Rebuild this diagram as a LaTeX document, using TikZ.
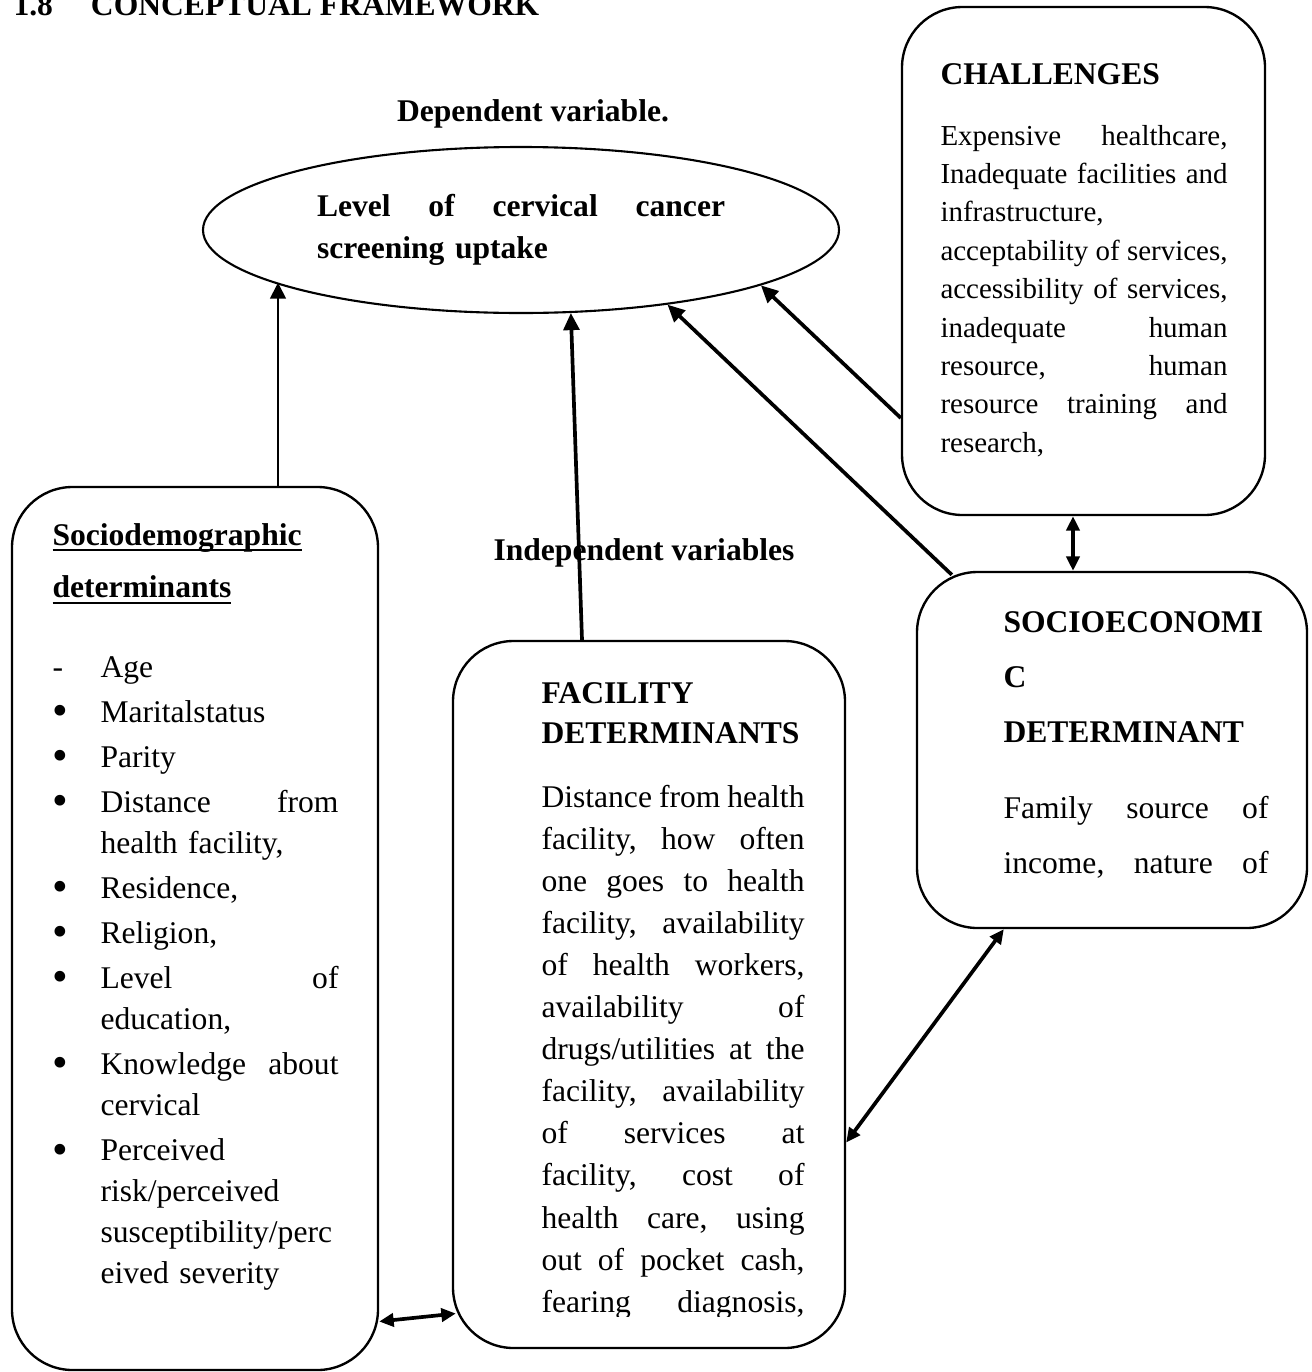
\documentclass[tikz,border=0pt]{standalone}
\usepackage{fontspec}
\setmainfont{Liberation Serif}
\usetikzlibrary{shapes.geometric,arrows.meta}

\newdimen\pxu \pxu=0.38pt
\newcommand{\jl}[2][\hsize]{\leavevmode\hbox to #1{\frenchspacing\spaceskip=.25em plus 1fil minus .06em\relax #2}}
\newsavebox\ulbox
\newcommand{\ulin}[1]{\leavevmode\sbox\ulbox{#1}\rlap{\rule[-2.3pt]{\wd\ulbox}{0.8pt}}\usebox\ulbox}
\newcommand{\bul}{\leavevmode\makebox[48\pxu][l]{\raisebox{-1.3pt}{\fontsize{17}{17}\selectfont\textbullet}}}
\newcommand{\hang}{\hspace*{48\pxu}}

\begin{document}
\begin{tikzpicture}[x=0.38pt, y=-0.38pt,
    box/.style={draw, line width=0.9pt, rounded corners=23pt, inner sep=0pt},
    hd/.style={inner sep=0pt, anchor=base west, font=\bfseries\fontsize{12}{15}\selectfont},
    txt/.style={inner sep=0pt, anchor=base west, align=left, font=\fontsize{12}{16}\selectfont},
    thin arr/.style={-{Triangle[length=6pt,width=6pt]}, line width=0.75pt},
    arr/.style={-{Triangle[length=6.5pt,width=6pt]}, line width=1.4pt},
    dbl/.style={{Triangle[length=5.5pt,width=5pt]}-{Triangle[length=5.5pt,width=5pt]}, line width=1.4pt}]

    \useasboundingbox (0,0) rectangle (1311,1372);

    % headings
    \node[hd] (ttl) at (13,15) {1.8\hspace{38\pxu}CONCEPTUAL FRAMEWORK};
    \node[hd, anchor=base] (dep) at (533,121) {Dependent variable.};
    \node[hd, anchor=base] (indep) at (644,560) {Independent variables};

    % dependent variable
    \node[ellipse, draw, line width=0.8pt, minimum width=636\pxu, minimum height=166\pxu,
          inner sep=0pt, text width=408\pxu, align=left,
          font=\bfseries\fontsize{12}{16}\selectfont] (ell) at (521,230)
          {\jl{Level of cervical cancer}\\ screening uptake};

    % challenges
    \node[box, minimum width=363\pxu, minimum height=508\pxu] (ch) at (1083.5,261) {};
    \node[hd] (chh) at (940,84) {CHALLENGES};
    \node[txt, text width=287\pxu, font=\fontsize{11}{14.6}\selectfont] (cht) at (940,145)
          {\jl{Expensive healthcare,}\\
           \jl{Inadequate facilities and}\\
           infrastructure,\\
           \jl{acceptability of services,}\\
           \jl{accessibility of services,}\\
           \jl{inadequate human}\\
           \jl{resource, human}\\
           \jl{resource training and}\\
           research,};

    % sociodemographic determinants
    \node[box, minimum width=366\pxu, minimum height=883\pxu] (sd) at (195,928.5) {};
    \node[hd, text width=286\pxu, align=left, font=\bfseries\fontsize{12}{20.1}\selectfont] (sdh) at (52,545)
          {\ulin{Sociodemographic}\\ \ulin{determinants}};
    \node[txt, text width=300\pxu, font=\fontsize{12}{15.6}\selectfont] (sdl) at (52,677)
          {\makebox[48\pxu][l]{-}Age\\[4\pxu]
           \bul Maritalstatus\\[4\pxu]
           \bul Parity\\[4\pxu]
           \bul\jl[238\pxu]{Distance from}\\
           \hang health facility,\\[4\pxu]
           \bul Residence,\\[4\pxu]
           \bul Religion,\\[4\pxu]
           \bul\jl[238\pxu]{Level of}\\
           \hang education,\\[4\pxu]
           \bul\jl[238\pxu]{Knowledge about}\\
           \hang cervical\\[4\pxu]
           \bul Perceived\\
           \hang risk/perceived\\
           \hang susceptibility/perc\\
           \hang eived severity};

    % facility determinants
    \node[box, minimum width=392\pxu, minimum height=707\pxu] (fac) at (649,994.5) {};
    \node[hd, text width=300\pxu, align=left, font=\bfseries\fontsize{12}{15.2}\selectfont] (fach) at (541,703)
          {FACILITY\\ DETERMINANTS};
    \begin{scope}
        \clip (453,641) rectangle (845,1316);
        \node[txt, text width=263\pxu] (fact) at (541,807)
              {\jl{Distance from health}\\
               \jl{facility, how often}\\
               \jl{one goes to health}\\
               \jl{facility, availability}\\
               \jl{of health workers,}\\
               \jl{availability of}\\
               \jl{drugs/utilities at the}\\
               \jl{facility, availability}\\
               \jl{of services at}\\
               \jl{facility, cost of}\\
               \jl{health care, using}\\
               \jl{out of pocket cash,}\\
               \jl{fearing diagnosis,}};
    \end{scope}

    % socioeconomic determinant
    \node[box, minimum width=390\pxu, minimum height=356\pxu] (se) at (1112,750) {};
    \node[hd, text width=280\pxu, align=left, font=\bfseries\fontsize{12}{20.9}\selectfont] (seh) at (1003,632)
          {SOCIOECONOMI\\ C\\ DETERMINANT};
    \node[txt, text width=265\pxu, font=\fontsize{12}{20.9}\selectfont] (set) at (1003,818)
          {\jl{Family source of}\\ \jl{income, nature of}};

    % connectors
    \draw[thin arr] ([xshift=83\pxu]sd.north) -- ([xshift=83\pxu]sd.north |- ell.192);
    \draw[arr] ([xshift=-67\pxu]fac.north) -- (ell.301);
    \draw[arr] ([xshift=36\pxu,yshift=-4\pxu]se.north west) -- (ell.333);
    \draw[arr] ([yshift=-157\pxu]ch.west) -- (ell.347);
    \draw[dbl] ([xshift=-10.5\pxu]ch.south) -- ([xshift=-39\pxu]se.north);
    \draw[dbl] ([yshift=-148\pxu]fac.east) -- ([xshift=88\pxu]se.south west);
    \draw[dbl] ([yshift=-393\pxu]sd.east) -- ([xshift=4\pxu,yshift=-319\pxu]fac.west);
\end{tikzpicture}
\end{document}
